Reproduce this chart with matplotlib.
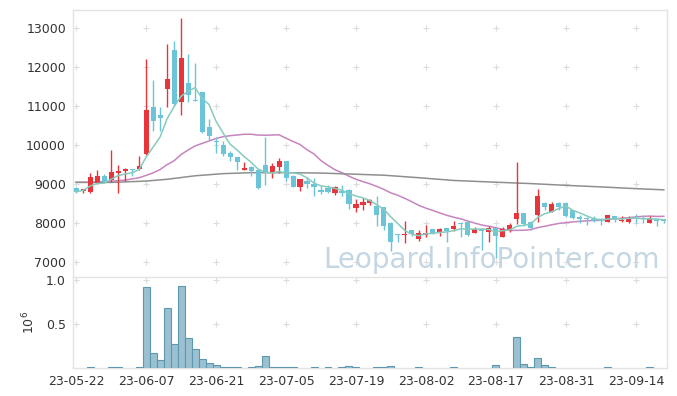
import matplotlib
matplotlib.use("Agg")
import matplotlib.pyplot as plt
from matplotlib import ticker
import numpy as np
import pandas as pd

# trading days (KRX), 2023-05-22 .. 2023-09-20
holidays = ["2023-05-29", "2023-06-06", "2023-08-15"]
days = pd.bdate_range("2023-05-22", "2023-09-20")
days = days[~days.isin(pd.to_datetime(holidays))]

opens = [8900, 8810, 8800, 9030, 9200, 9090, 9280, 9330, 9380, 9380,
         9770, 10980, 10760, 11440, 12440, 11090, 11590, 11160, 11360, 10450,
         10110, 10000, 9790, 9690, 9370, 9440, 9360, 9490, 9300, 9440,
         9590, 9200, 8930, 9080, 8990, 8850, 8900, 8760, 8830, 8850,
         8390, 8460, 8500, 8440, 8400, 8010, 7720, 7680, 7820, 7580,
         7700, 7840, 7740, 7860, 7850, 8010, 8030, 7750, 7850, 7780,
         7860, 7650, 7820, 8100, 8250, 8030, 8200, 8520, 8290, 8520,
         8520, 8320, 8150, 8140, 8100, 8100, 8030, 8180, 8060, 8030,
         8120, 8140, 8010, 8100, 8090]
highs = [8930, 8880, 9270, 9350, 9260, 9870, 9490, 9400, 9390, 9730,
         12200, 11670, 10980, 12580, 12675, 13250, 12330, 12100, 11370, 10660,
         10210, 10110, 9850, 9700, 9570, 9450, 9370, 10200, 9530, 9660,
         9600, 9230, 9130, 9170, 9150, 8960, 8970, 8950, 8970, 8860,
         8610, 8630, 8610, 8680, 8410, 8020, 7730, 8060, 7830, 7820,
         7950, 7850, 7860, 7870, 8060, 8020, 8050, 7890, 7860, 7920,
         7880, 7900, 7990, 9570, 8260, 8040, 8860, 8550, 8550, 8530,
         8530, 8330, 8210, 8160, 8180, 8120, 8210, 8190, 8180, 8180,
         8230, 8200, 8180, 8110, 8110]
lows = [8760, 8780, 8780, 9010, 9020, 9060, 8760, 9080, 9210, 9360,
        9750, 10370, 10370, 10980, 11000, 10770, 11110, 11120, 10310, 10130,
        9790, 9730, 9600, 9360, 9360, 9200, 8880, 8970, 9150, 9270,
        9080, 8910, 8820, 8890, 8680, 8740, 8780, 8720, 8680, 8350,
        8290, 8320, 8460, 7910, 7820, 7270, 7520, 7480, 7670, 7550,
        7650, 7720, 7670, 7520, 7800, 7630, 7670, 7740, 7310, 7500,
        7100, 7630, 7780, 7980, 7910, 7820, 8030, 8330, 8270, 8330,
        8160, 8100, 7990, 7950, 8030, 7950, 8020, 8020, 8020, 8010,
        7990, 7990, 7990, 7920, 8010]
closes = [8800, 8870, 9170, 9210, 9050, 9310, 9330, 9380, 9360, 9470,
          10900, 10610, 10680, 11690, 11040, 12220, 11270, 11130, 10320, 10240,
          10080, 9770, 9700, 9570, 9410, 9340, 8900, 9300, 9460, 9590,
          9160, 8930, 9120, 8990, 8910, 8800, 8800, 8930, 8760, 8480,
          8490, 8550, 8590, 8200, 7920, 7500, 7690, 7720, 7720, 7740,
          7750, 7740, 7840, 7790, 7910, 7970, 7700, 7850, 7790, 7860,
          7670, 7850, 7950, 8250, 7980, 7860, 8690, 8420, 8490, 8400,
          8180, 8120, 8100, 8100, 8050, 8060, 8200, 8120, 8080, 8140,
          8090, 8100, 8120, 8050, 8060]
volumes = [0, 0, 0.010, 0, 0, 0.008, 0.008, 0, 0, 0.008,
           0.916, 0.175, 0.087, 0.677, 0.270, 0.930, 0.346, 0.220, 0.106, 0.060,
           0.038, 0.015, 0.015, 0.015, 0, 0.010, 0.020, 0.140, 0.012, 0.012,
           0.012, 0.012, 0, 0, 0.010, 0, 0.010, 0, 0.010, 0.023,
           0.012, 0, 0, 0.010, 0.010, 0.027, 0, 0, 0, 0.010,
           0, 0, 0, 0, 0.010, 0, 0, 0, 0, 0,
           0.034, 0, 0, 0.357, 0.050, 0.015, 0.118, 0.038, 0.015, 0,
           0, 0, 0, 0, 0, 0, 0.012, 0, 0, 0,
           0, 0, 0.012, 0, 0]  # millions of shares

# 20-day average before enough history is on the chart
ma20_warmup = [9045, 9045, 9050, 9055, 9060, 9070, 9085, 9100, 9130, 9160,
               9220, 9285, 9370, 9495, 9595, 9755, 9870, 9975, 10040]
# long moving average
ma_long_idx = [0, 5, 10, 13, 17, 21, 25, 30, 35, 40, 44, 49, 54, 60, 65, 70, 75, 80, 84]
ma_long_val = [9040, 9040, 9075, 9120, 9210, 9265, 9290, 9290, 9280, 9250,
               9225, 9160, 9090, 9045, 9010, 8965, 8925, 8880, 8850]

df = pd.DataFrame({"open": opens, "high": highs, "low": lows,
                   "close": closes, "volume": np.array(volumes) * 1e6},
                  index=days)
x = np.arange(len(df))
ma5 = df["close"].rolling(5, min_periods=1).mean()
ma20 = df["close"].rolling(20).mean()
ma20.iloc[:len(ma20_warmup)] = ma20_warmup

up_color = "#e8343b"
down_color = "#6cc4d9"
grid_color = "#dcdcdc"
spine_color = "#e3e3e3"
text_color = "#333333"

plt.rcParams["font.family"] = ["DejaVu Sans"]
fig = plt.figure(figsize=(6.77, 3.96), dpi=100)
ax = fig.add_axes([0.1078, 0.3005, 0.8774, 0.6742])
axv = fig.add_axes([0.1078, 0.0707, 0.8774, 0.2298], sharex=ax)

up = df["close"] >= df["open"]
colors = np.where(up, up_color, down_color)
ax.vlines(x, df["low"], df["high"], colors=colors, linewidth=1.0, zorder=3)
body_bottom = np.minimum(df["open"], df["close"])
body_height = np.maximum((df["close"] - df["open"]).abs(), 25)
ax.bar(x, body_height, bottom=body_bottom, width=0.72, color=colors,
       linewidth=0, zorder=4)

ax.plot(x, ma5, color="#86cbbd", linewidth=1.1, zorder=5)
ax.plot(x, ma20, color="#c784bf", linewidth=1.1, zorder=2)
ax.plot(ma_long_idx, ma_long_val, color="#8f8f8f", linewidth=1.1, zorder=2)

ax.text(0.705, 0.065, "Leopard.InfoPointer.com", transform=ax.transAxes,
        fontsize=20, color="#c3d6e2", ha="center", va="center", zorder=6)

mask = df["volume"] > 0
axv.bar(x[mask], df["volume"][mask], width=1.0, color="#9bc1d1",
        edgecolor="#5d97b0", linewidth=0.8, zorder=3)

tick_idx = np.arange(0, len(df), 10)
tick_labels = [d.strftime("%y-%m-%d") for d in df.index[tick_idx]]
yticks_price = np.arange(7000, 13001, 1000)
yticks_vol = [0.5e6, 1.0e6]

ax.set_xlim(-0.45, len(df) - 0.55)
ax.set_ylim(6615, 13460)
axv.set_ylim(0, 1.034e6)

ax.set_yticks(yticks_price)
ax.set_yticklabels([str(v) for v in yticks_price])
axv.set_yticks(yticks_vol)
axv.yaxis.set_major_formatter(ticker.FuncFormatter(lambda v, p: f"{v / 1e6:.1f}"))
axv.set_xticks(tick_idx)
axv.set_xticklabels(tick_labels)
axv.set_ylabel(r"$10^6$", fontsize=9, color=text_color, labelpad=6)
plt.setp(ax.get_xticklabels(), visible=False)

# grid shown as small crosses at tick intersections
gx, gy = np.meshgrid(tick_idx, yticks_price)
ax.plot(gx.ravel(), gy.ravel(), "+", color=grid_color, markersize=5,
        markeredgewidth=0.8, zorder=1)
gx, gy = np.meshgrid(tick_idx, yticks_vol)
axv.plot(gx.ravel(), gy.ravel(), "+", color=grid_color, markersize=5,
         markeredgewidth=0.8, zorder=1)

for a in (ax, axv):
    a.tick_params(length=0, labelsize=9, labelcolor=text_color, pad=5)
    for s in a.spines.values():
        s.set_color(spine_color)
        s.set_linewidth(1.0)
ax.spines["bottom"].set_visible(False)

fig.savefig("out.png", dpi=100)
